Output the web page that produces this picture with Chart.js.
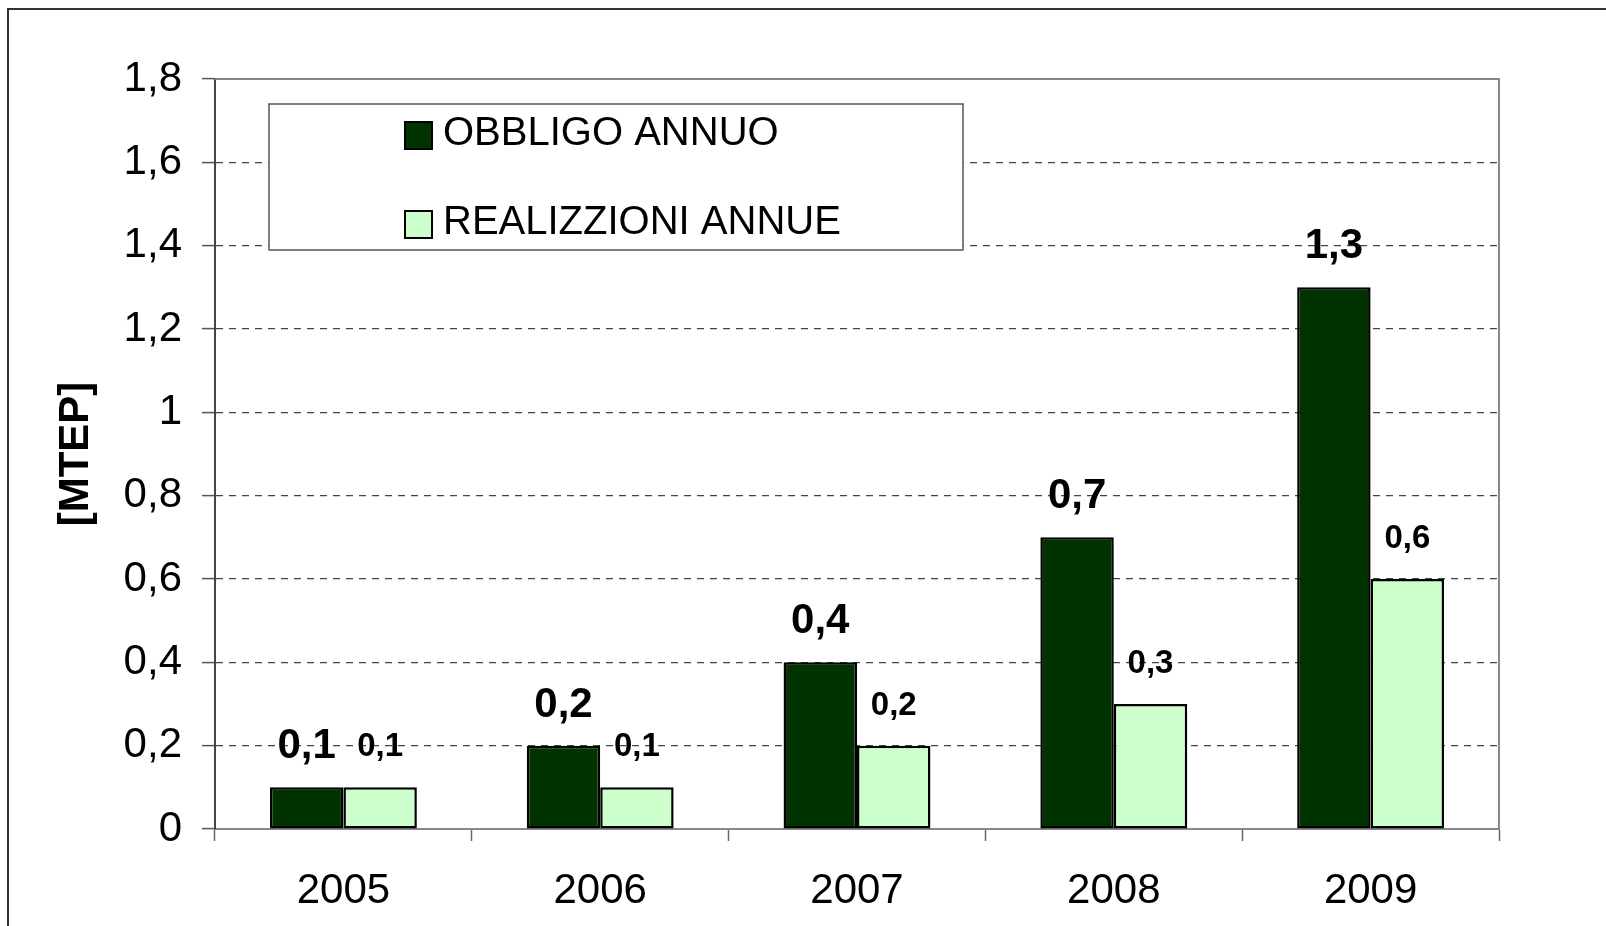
<!DOCTYPE html>
<html>
<head>
<meta charset="utf-8">
<script src="https://cdn.jsdelivr.net/npm/chart.js@4.4.1/dist/chart.umd.min.js"></script>
<style>
  html, body { margin: 0; padding: 0; background: #fff; overflow: hidden; }
  canvas { display: block; }
</style>
</head>
<body>
<canvas id="grafico" width="1606" height="926"></canvas>
<script>
"use strict";

// dati
const anni = ["2005", "2006", "2007", "2008", "2009"];
const obbligoAnnuo = [0.1, 0.2, 0.4, 0.7, 1.3];
const realizzazioniAnnue = [0.1, 0.1, 0.2, 0.3, 0.6];
const etichetteSerie = ["OBBLIGO ANNUO", "REALIZZIONI ANNUE"];
const titoloAsseY = "[MTEP]";

const FONT = "'Liberation Sans', Arial, sans-serif";
const coloreScuro = "#003300";
const coloreChiaro = "#ccffcc";

const virgola = v => String(Number(v.toFixed(1))).replace(".", ",");

// sfondo, bordo esterno e bordo dell'area del grafico
const cornice = {
    id: "cornice",
    beforeDraw(chart) {
        const ctx = chart.ctx;
        ctx.save();
        ctx.fillStyle = "#fff";
        ctx.fillRect(0, 0, chart.width, chart.height);
        ctx.strokeStyle = "#333";
        ctx.lineWidth = 2;
        ctx.strokeRect(8, 9, 1700, 1000);
        ctx.restore();
    },
    beforeDatasetsDraw(chart) {
        const { ctx, chartArea: a } = chart;
        ctx.save();
        ctx.strokeStyle = "#888";
        ctx.lineWidth = 2;
        ctx.beginPath();
        ctx.moveTo(a.left, a.top);
        ctx.lineTo(a.right, a.top);
        ctx.lineTo(a.right, a.bottom);
        ctx.stroke();

        // legenda dentro l'area del grafico
        ctx.fillStyle = "#fff";
        ctx.fillRect(269, 104, 694, 146);
        ctx.strokeStyle = "#555";
        ctx.lineWidth = 1.5;
        ctx.strokeRect(269, 104, 694, 146);
        const righe = [122, 211];
        chart.data.datasets.forEach((ds, i) => {
            ctx.fillStyle = ds.backgroundColor;
            ctx.fillRect(405, righe[i], 27, 27);
            ctx.strokeStyle = "#000";
            ctx.lineWidth = 2;
            ctx.strokeRect(405, righe[i], 27, 27);
            ctx.fillStyle = "#000";
            ctx.font = "40px " + FONT;
            ctx.textBaseline = "alphabetic";
            ctx.textAlign = "left";
            ctx.fillText(ds.label, 443, righe[i] + 23);
        });
        ctx.restore();
    },
    afterDatasetsDraw(chart) {
        const ctx = chart.ctx;
        ctx.save();
        ctx.fillStyle = "#000";
        ctx.textAlign = "center";
        ctx.textBaseline = "alphabetic";
        chart.data.datasets.forEach((ds, i) => {
            const meta = chart.getDatasetMeta(i);
            ctx.font = (i === 0 ? "bold 42px " : "bold 33px ") + FONT;
            const distanza = i === 0 ? 29 : 31;
            meta.data.forEach((barra, j) => {
                ctx.fillText(virgola(ds.data[j]), barra.x, barra.y - distanza);
            });
        });
        ctx.restore();
    }
};

new Chart(document.getElementById("grafico"), {
    type: "bar",
    data: {
        labels: anni,
        datasets: [
            { label: etichetteSerie[0], data: obbligoAnnuo, backgroundColor: coloreScuro, borderColor: "#000", borderWidth: 2.5, borderSkipped: false },
            { label: etichetteSerie[1], data: realizzazioniAnnue, backgroundColor: coloreChiaro, borderColor: "#000", borderWidth: 2.5, borderSkipped: false }
        ]
    },
    options: {
        responsive: false,
        animation: false,
        devicePixelRatio: 1,
        layout: { padding: { top: 79, right: 107, left: 0, bottom: 0 } },
        datasets: { bar: { barPercentage: 1, categoryPercentage: 0.572 } },
        plugins: { legend: { display: false }, tooltip: { enabled: false } },
        scales: {
            x: {
                afterFit: s => { s.height = 97; },
                grid: { offset: true, drawOnChartArea: false, tickLength: 12, tickColor: "#666", tickWidth: 1.5 },
                border: { color: "#888", width: 2 },
                ticks: { color: "#000", font: { family: FONT, size: 42 }, padding: 25 }
            },
            y: {
                min: 0,
                max: 1.8,
                afterFit: s => { s.width = 215; },
                grid: { color: "#444", lineWidth: 1.2, tickLength: 13, tickColor: "#555", tickWidth: 1.5 },
                border: { color: "#444", width: 2, dash: [7, 6] },
                ticks: {
                    stepSize: 0.2,
                    color: "#000",
                    padding: 20,
                    font: { family: FONT, size: 42 },
                    callback: v => virgola(v)
                },
                title: {
                    display: true,
                    text: titoloAsseY,
                    color: "#000",
                    font: { family: FONT, size: 42, weight: "bold" },
                    padding: { top: 51, bottom: 0 }
                }
            }
        }
    },
    plugins: [cornice]
});
</script>
</body>
</html>
